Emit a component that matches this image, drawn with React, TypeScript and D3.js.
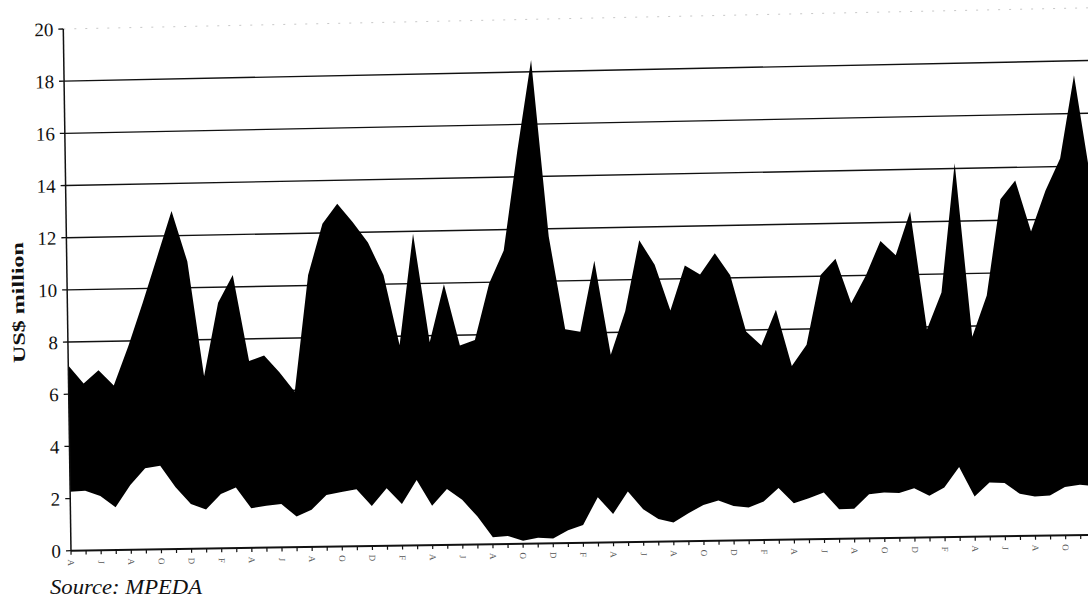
import React from "react";
import * as d3 from "d3";

// Monthly categories, starting April
const categories = [
  "A","M","J","J","A","S","O","N","D","J","F","M",
  "A","M","J","J","A","S","O","N","D","J","F","M",
  "A","M","J","J","A","S","O","N","D","J","F","M",
  "A","M","J","J","A","S","O","N","D","J","F","M",
  "A","M","J","J","A","S","O","N","D","J","F","M",
  "A","M","J","J","A","S","O","N","D",
];

// Upper (total) series – black area
const upperValues = [
  7.1, 6.4, 6.9, 6.3, 7.8, 9.45, 11.2, 12.95, 11.0, 6.6,
  9.4, 10.45, 7.15, 7.35, 6.7, 5.95, 10.4, 12.35, 13.1, 12.4,
  11.6, 10.35, 7.65, 11.9, 7.75, 9.95, 7.6, 7.8, 9.95, 11.2,
  15.0, 18.45, 11.7, 8.15, 8.05, 10.75, 7.15, 8.8, 11.5, 10.55,
  8.8, 10.5, 10.15, 10.95, 10.1, 7.95, 7.4, 8.75, 6.6, 7.4,
  10.05, 10.65, 8.95, 10.0, 11.3, 10.75, 12.4, 7.9, 9.3, 14.2,
  7.6, 9.15, 12.8, 13.5, 11.55, 13.1, 14.3, 17.45, 13.5,
];

// Lower series – white area
const lowerValues = [
  2.26, 2.29, 2.08, 1.64, 2.48, 3.11, 3.2, 2.37, 1.72, 1.5,
  2.08, 2.32, 1.52, 1.6, 1.66, 1.17, 1.42, 1.98, 2.08, 2.18,
  1.53, 2.2, 1.59, 2.5, 1.5, 2.13, 1.71, 1.06, 0.26, 0.3,
  0.11, 0.22, 0.18, 0.49, 0.68, 1.73, 1.08, 1.93, 1.24, 0.86,
  0.72, 1.06, 1.37, 1.53, 1.31, 1.24, 1.46, 1.97, 1.38, 1.56,
  1.77, 1.12, 1.13, 1.68, 1.73, 1.7, 1.88, 1.58, 1.89, 2.66,
  1.53, 2.05, 2.02, 1.6, 1.49, 1.52, 1.83, 1.91, 1.85,
];

const yTicks = [0, 2, 4, 6, 8, 10, 12, 14, 16, 18, 20];
const yAxisTitle = "US$ million";
const sourceText = "Source: MPEDA";

const W = 1088;
const H = 599;

// scanned-page warp (bilinear) corners
const P00 = [71, 550.7];
const P10 = [1088, 534.9];
const P01 = [63.3, 29];
const P11 = [1080.3, 8];
const SPAN = 1017;
const STEP = 15.07;
const PX = 521.7;

function warp(u: number, t: number): [number, number] {
  const s = u / SPAN;
  const a = (1 - s) * (1 - t), b = s * (1 - t), c = (1 - s) * t, d = s * t;
  return [
    a * P00[0] + b * P10[0] + c * P01[0] + d * P11[0],
    a * P00[1] + b * P10[1] + c * P01[1] + d * P11[1],
  ];
}

const n = categories.length;
const x = d3.scaleLinear().domain([0, n - 1]).range([0, (n - 1) * STEP]);
const y = d3.scaleLinear().domain([0, 20]).range([0, 1]);
const ANG = (Math.atan2(P10[1] - P00[1], P10[0] - P00[0]) * 180) / Math.PI;

const line = d3.line<[number, number]>().x((p) => p[0]).y((p) => p[1]);

function areaPath(vals: number[]) {
  const pts: [number, number][] = vals.map((v, i) => warp(x(i), y(v)));
  pts.push(warp(x(n - 1), 0));
  pts.push(warp(0, 0));
  return line(pts) + "Z";
}

function seg(p: [number, number], q: [number, number]) {
  return line([p, q]) as string;
}

export default function App() {
  const serif = "'Liberation Serif', 'Times New Roman', serif";
  const uEnd = x(n - 1) + 20;
  return (
    <svg
      width={W}
      height={H}
      viewBox={`0 0 ${W} ${H}`}
      style={{ position: "absolute", left: 0, top: 0, display: "block", background: "#fff", overflow: "hidden" }}
    >
      <rect x={0} y={0} width={W} height={H} fill="#fff" />
      {/* gridlines */}
      {yTicks.filter((v) => v > 0).map((v) => (
        <path
          key={"g" + v}
          d={seg(warp(0, y(v)), warp(uEnd, y(v)))}
          stroke={v === 20 ? "#c8c8c8" : "#111"}
          strokeWidth={v === 20 ? 1 : 1.4}
          strokeDasharray={v === 20 ? "2 9" : undefined}
          fill="none"
        />
      ))}
      {/* upper black area */}
      <path d={areaPath(upperValues)} fill="#000" />
      {/* lower white area */}
      <path d={areaPath(lowerValues)} fill="#fff" />
      {/* y axis */}
      <path d={seg(warp(0, 0), warp(0, 1))} stroke="#111" strokeWidth={1.5} fill="none" />
      {yTicks.map((v) => (
        <path key={"yt" + v} d={seg(warp(-5, y(v)), warp(0, y(v)))} stroke="#111" strokeWidth={1.3} />
      ))}
      {yTicks.map((v) => {
        const [tx, ty] = warp(-10, y(v));
        return (
          <text
            key={"yl" + v}
            x={tx}
            y={ty}
            dy="0.36em"
            textAnchor="end"
            fontFamily={serif}
            fontSize={19}
            fill="#111"
            transform={`rotate(${ANG} ${tx} ${ty})`}
          >
            {v}
          </text>
        );
      })}
      {/* x axis */}
      <path d={seg(warp(0, 0), warp(uEnd, 0))} stroke="#111" strokeWidth={2} fill="none" />
      {categories.map((c, i) => (
        <path key={"xt" + i} d={seg(warp(x(i), 0), warp(x(i), -4 / PX))} stroke="#111" strokeWidth={1.2} />
      ))}
      {categories.map((c, i) => {
        if (i % 2 !== 0) return null;
        const [tx, ty] = warp(x(i), -12 / PX);
        if (tx > W - 8) return null;
        return (
          <text
            key={"xl" + i}
            transform={`translate(${tx},${ty}) rotate(${90 + ANG})`}
            textAnchor="middle"
            dy="0.35em"
            fontFamily={serif}
            fontSize={9}
            fill="#555"
          >
            {c}
          </text>
        );
      })}
      {/* y axis title */}
      <text
        transform={`translate(24,302.5) rotate(${-90 + ANG})`}
        textAnchor="middle"
        fontFamily={serif}
        fontWeight="bold"
        fontSize={17}
        textLength={121}
        lengthAdjust="spacingAndGlyphs"
        fill="#111"
      >
        {yAxisTitle}
      </text>
      {/* source */}
      <text
        x={50}
        y={594}
        fontFamily={serif}
        fontStyle="italic"
        fontSize={22}
        textLength={152}
        lengthAdjust="spacingAndGlyphs"
        fill="#111"
      >
        {sourceText}
      </text>
    </svg>
  );
}
